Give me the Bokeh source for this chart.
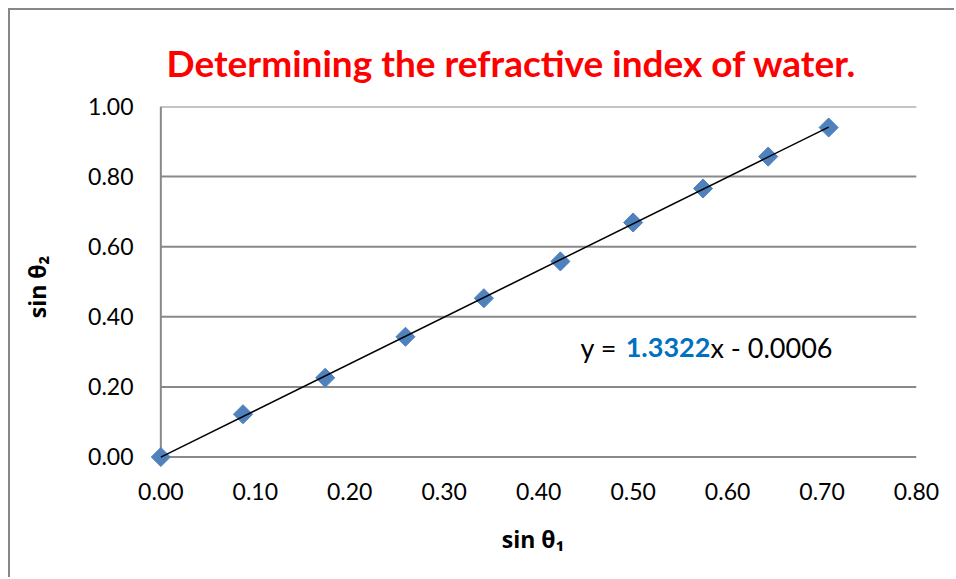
import math
from bokeh.plotting import figure
from bokeh.models import Range1d, FixedTicker, NumeralTickFormatter, Label
from bokeh.embed import file_html
from bokeh.resources import INLINE

# ---- data ----
sin_theta1 = [0.000, 0.087, 0.174, 0.259, 0.342, 0.423, 0.500, 0.574, 0.643, 0.707]
sin_theta2 = [0.000, 0.122, 0.226, 0.343, 0.453, 0.558, 0.669, 0.766, 0.857, 0.940]
fit_slope = 1.3322
fit_intercept = -0.0006
x_ticks = [0.0, 0.1, 0.2, 0.3, 0.4, 0.5, 0.6, 0.7, 0.8]
y_ticks = [0.0, 0.2, 0.4, 0.6, 0.8, 1.0]
title_text = "Determining the refractive index of water."
x_label = "sin θ₁"
y_label = "sin θ₂"
eq_parts = ["y =", "1.3322", "x - 0.0006"]

GRAY = "#898989"
FONT = "Lato"
X_PAD = 0.012   # room so the marker at the origin is not clipped
Y_PAD = 0.03

p = figure(width=946, height=569, output_backend="svg", toolbar_location=None,
           x_range=Range1d(-X_PAD, x_ticks[-1]), y_range=Range1d(-Y_PAD, y_ticks[-1]),
           min_border_left=139, min_border_top=96, min_border_right=40, min_border_bottom=112)
p.styles = {"margin-left": "8px", "margin-top": "8px",
            "border-left": "2px solid #878787", "border-top": "2px solid #878787"}
p.outline_line_color = None
p.background_fill_color = "white"
p.border_fill_color = "white"

# title
p.title.text = title_text
p.title.align = "left"
p.title.offset = 17
p.title.standoff = 44
p.title.text_font = FONT
p.title.text_font_style = "bold"
p.title.text_font_size = "37px"
p.title.text_color = "#FF0000"

# no automatic grid; draw grid lines from tick values between x=0 and x=0.8
p.xgrid.grid_line_color = None
p.ygrid.grid_line_color = None
p.segment(x0=[x_ticks[0]] * len(y_ticks), y0=y_ticks, x1=[x_ticks[-1]] * len(y_ticks), y1=y_ticks,
          line_color=GRAY, line_width=2)
# y axis line at x = 0
p.segment(x0=[x_ticks[0]], y0=[y_ticks[0]], x1=[x_ticks[0]], y1=[y_ticks[-1]],
          line_color=GRAY, line_width=2)

for ax in (p.xaxis[0], p.yaxis[0]):
    ax.axis_line_color = None
    ax.major_tick_line_color = None
    ax.minor_tick_line_color = None
    ax.major_tick_in = 0
    ax.major_tick_out = 0
    ax.minor_tick_in = 0
    ax.minor_tick_out = 0
    ax.major_label_text_font = FONT
    ax.major_label_text_font_size = "23px"
    ax.major_label_text_color = "black"
    ax.formatter = NumeralTickFormatter(format="0.00")
    ax.axis_label_text_font = "Open Sans"
    ax.axis_label_text_font_style = "bold"
    ax.axis_label_text_font_size = "23px"
    ax.axis_label_text_color = "black"

p.xaxis[0].ticker = FixedTicker(ticks=x_ticks)
p.yaxis[0].ticker = FixedTicker(ticks=y_ticks)
p.yaxis[0].major_label_standoff = 16
p.xaxis[0].major_label_standoff = 15
p.xaxis[0].axis_label = x_label
p.yaxis[0].axis_label = y_label
p.xaxis[0].axis_label_standoff = 20
p.yaxis[0].axis_label_standoff = 32

# data markers
p.scatter(sin_theta1, sin_theta2, marker="square", angle=math.pi / 4, size=13.5,
          fill_color="#4F81BD", line_color="#4F81BD")

# trend line
xs_fit = [sin_theta1[0], sin_theta1[-1]]
ys_fit = [fit_slope * v + fit_intercept for v in xs_fit]
p.line(xs_fit, ys_fit, line_color="black", line_width=1.5)

# equation (screen offsets from frame left / bottom)
eq_y = 120
p.add_layout(Label(x=431, y=eq_y, x_units="screen", y_units="screen", text=eq_parts[0],
                   text_font=FONT, text_font_size="27px", text_color="black",
                   text_align="left", text_baseline="alphabetic"))
p.add_layout(Label(x=518.5, y=eq_y, x_units="screen", y_units="screen", text=eq_parts[1],
                   text_font=FONT, text_font_style="bold", text_font_size="27px", text_color="#0070C0",
                   text_align="center", text_baseline="alphabetic"))
p.add_layout(Label(x=561, y=eq_y, x_units="screen", y_units="screen", text=eq_parts[2],
                   text_font=FONT, text_font_size="27px", text_color="black",
                   text_align="left", text_baseline="alphabetic"))

open("out.html", "w").write(file_html(p, INLINE))
